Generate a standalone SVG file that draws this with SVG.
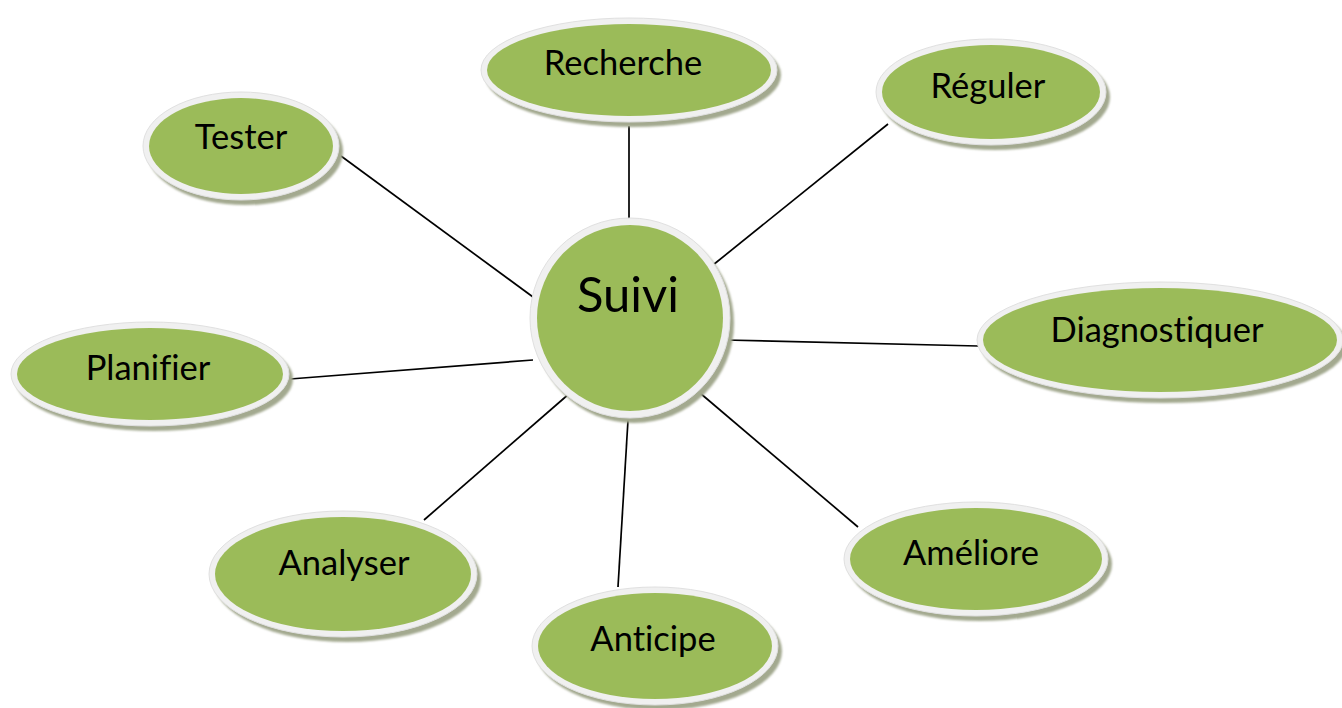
<svg xmlns="http://www.w3.org/2000/svg" width="1342" height="708" viewBox="0 0 1342 708">
  <defs>
    <filter id="soft" x="-10%" y="-10%" width="120%" height="120%">
      <feGaussianBlur stdDeviation="1.2"/>
    </filter>
  </defs>
  <style>
    .shadow { fill: #a3a98f; filter: url(#soft); }
    .rim { fill: #f0f0f0; stroke: #e0e0e0; stroke-width: 1; }
    .body { fill: #9bbb59; }
    .label { font-family: Lato, "Open Sans", sans-serif; font-size: 34.5px; fill: #000; text-anchor: middle;
             font-variant-ligatures: none; font-feature-settings: "liga" 0, "clig" 0; }
    .hub { font-size: 49px; }
    .link { stroke: #000; stroke-width: 1.7; fill: none; }
  </style>
  <rect width="1342" height="708" fill="#fff"/>

  <!-- spokes from the hub to each topic -->
  <g id="connectors">
    <line class="link" x1="629" y1="126" x2="629" y2="222"/>
    <line class="link" x1="888" y1="124" x2="713" y2="265"/>
    <line class="link" x1="978" y1="346" x2="725" y2="340"/>
    <line class="link" x1="858" y1="527" x2="700" y2="393"/>
    <line class="link" x1="618" y1="587" x2="628" y2="420"/>
    <line class="link" x1="424" y1="520" x2="570" y2="393"/>
    <line class="link" x1="290" y1="379" x2="533" y2="360"/>
    <line class="link" x1="341" y1="156" x2="533" y2="297"/>
  </g>

  <g id="node-suivi">
    <circle class="shadow" cx="634" cy="323" r="100"/>
    <circle class="rim" cx="630" cy="318" r="100"/>
    <circle class="body" cx="630" cy="318" r="93"/>
    <text class="label hub" x="628" y="312">Suivi</text>
  </g>

  <g id="node-recherche">
    <ellipse class="shadow" cx="633" cy="75" rx="148" ry="52"/>
    <ellipse class="rim" cx="629" cy="70" rx="148" ry="52"/>
    <ellipse class="body" cx="629" cy="70" rx="142" ry="46"/>
    <text class="label" x="623" y="75">Recherche</text>
  </g>

  <g id="node-reguler">
    <ellipse class="shadow" cx="995" cy="97" rx="115" ry="53"/>
    <ellipse class="rim" cx="991" cy="92" rx="115" ry="53"/>
    <ellipse class="body" cx="991" cy="92" rx="109" ry="47"/>
    <text class="label" x="988" y="98">Réguler</text>
  </g>

  <g id="node-diagnostiquer">
    <ellipse class="shadow" cx="1164" cy="345" rx="183" ry="58"/>
    <ellipse class="rim" cx="1160" cy="340" rx="183" ry="58"/>
    <ellipse class="body" cx="1160" cy="340" rx="177" ry="52"/>
    <text class="label" x="1157" y="342">Diagnostiquer</text>
  </g>

  <g id="node-ameliore">
    <ellipse class="shadow" cx="980" cy="564" rx="132" ry="57"/>
    <ellipse class="rim" cx="976" cy="559" rx="132" ry="57"/>
    <ellipse class="body" cx="976" cy="559" rx="126" ry="51"/>
    <text class="label" x="971" y="565">Améliore</text>
  </g>

  <g id="node-anticipe">
    <ellipse class="shadow" cx="659" cy="651" rx="123" ry="59"/>
    <ellipse class="rim" cx="655" cy="646" rx="123" ry="59"/>
    <ellipse class="body" cx="655" cy="646" rx="117" ry="53"/>
    <text class="label" x="653" y="651">Anticipe</text>
  </g>

  <g id="node-analyser">
    <ellipse class="shadow" cx="347" cy="579" rx="134" ry="63"/>
    <ellipse class="rim" cx="343" cy="574" rx="134" ry="63"/>
    <ellipse class="body" cx="343" cy="574" rx="128" ry="57"/>
    <text class="label" x="344" y="575">Analyser</text>
  </g>

  <g id="node-planifier">
    <ellipse class="shadow" cx="154" cy="379" rx="139" ry="52"/>
    <ellipse class="rim" cx="150" cy="374" rx="139" ry="52"/>
    <ellipse class="body" cx="150" cy="374" rx="133" ry="46"/>
    <text class="label" x="148" y="380">Planifier</text>
  </g>

  <g id="node-tester">
    <ellipse class="shadow" cx="245" cy="151" rx="98" ry="54"/>
    <ellipse class="rim" cx="241" cy="146" rx="98" ry="54"/>
    <ellipse class="body" cx="241" cy="146" rx="92" ry="48"/>
    <text class="label" x="241" y="149">Tester</text>
  </g>
</svg>
